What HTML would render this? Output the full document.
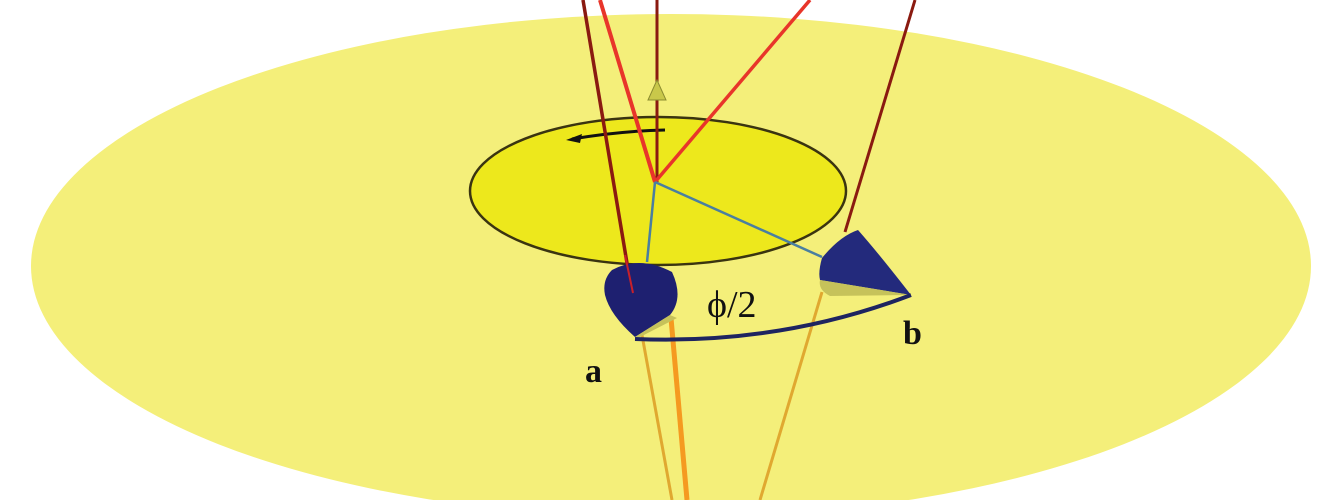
<!DOCTYPE html>
<html><head><meta charset="utf-8"><style>
html,body{margin:0;padding:0;background:#fff;width:1320px;height:500px;overflow:hidden}
svg{display:block}
</style></head><body>
<svg width="1320" height="500" viewBox="0 0 1320 500">
<ellipse cx="671" cy="266" rx="640" ry="252" fill="#f4ef7a"/>
<ellipse cx="658" cy="191" rx="188" ry="74" fill="#ede81c" stroke="#3a3410" stroke-width="2.5"/>
<path d="M665 130 Q620 131 572 139" stroke="#111" stroke-width="3" fill="none"/>
<polygon points="566,140 582,134 580,143" fill="#111"/>
<line x1="657" y1="0" x2="657" y2="182" stroke="#8a1a10" stroke-width="3"/>
<polygon points="657,80 648,100 666,100" fill="#c9c84a" stroke="#8c8c30" stroke-width="1"/>
<line x1="583" y1="0" x2="632" y2="293" stroke="#8a1a10" stroke-width="3.5"/>
<line x1="600" y1="0" x2="655" y2="182" stroke="#e8352a" stroke-width="4"/>
<line x1="810" y1="0" x2="655" y2="182" stroke="#e8352a" stroke-width="3.5"/>
<line x1="915" y1="0" x2="845" y2="232" stroke="#8a1a10" stroke-width="3"/>
<line x1="655" y1="182" x2="647" y2="262" stroke="#4a7fa0" stroke-width="2.5"/>
<line x1="655" y1="182" x2="822" y2="257" stroke="#4a7fa0" stroke-width="2.5"/>
<line x1="642" y1="335" x2="672" y2="500" stroke="#e0a830" stroke-width="3"/>
<line x1="671" y1="318" x2="687" y2="500" stroke="#f59a20" stroke-width="5"/>
<line x1="822" y1="292" x2="760" y2="500" stroke="#e0a830" stroke-width="3"/>
<path d="M612 270 Q640 255 672 272 Q684 298 670 315 L635 337 Q610 315 605 295 Q602 280 612 270 Z" fill="#1e2070"/>
<path d="M670 315 L635 337 L640 337 L677 318 Z" fill="#c6c25a"/>
<line x1="625" y1="255" x2="633" y2="293" stroke="#c8202a" stroke-width="2"/>
<path d="M858 230 Q840 236 822 258 Q818 272 820 280 L911 295 Q880 255 858 230 Z" fill="#232a7c"/>
<path d="M820 280 L911 295 L830 296 Q818 290 820 280 Z" fill="#c6c25a"/>
<path d="M635 339 Q780 345 911 295" stroke="#1e2460" stroke-width="4" fill="none"/>
<text x="707" y="317" font-family="Liberation Serif, serif" font-size="38" fill="#111">ϕ/2</text>
<text x="903" y="344" font-family="Liberation Serif, serif" font-size="34" font-weight="bold" fill="#111">b</text>
<text x="585" y="382" font-family="Liberation Serif, serif" font-size="34" font-weight="bold" fill="#111">a</text>
</svg>
</body></html>
